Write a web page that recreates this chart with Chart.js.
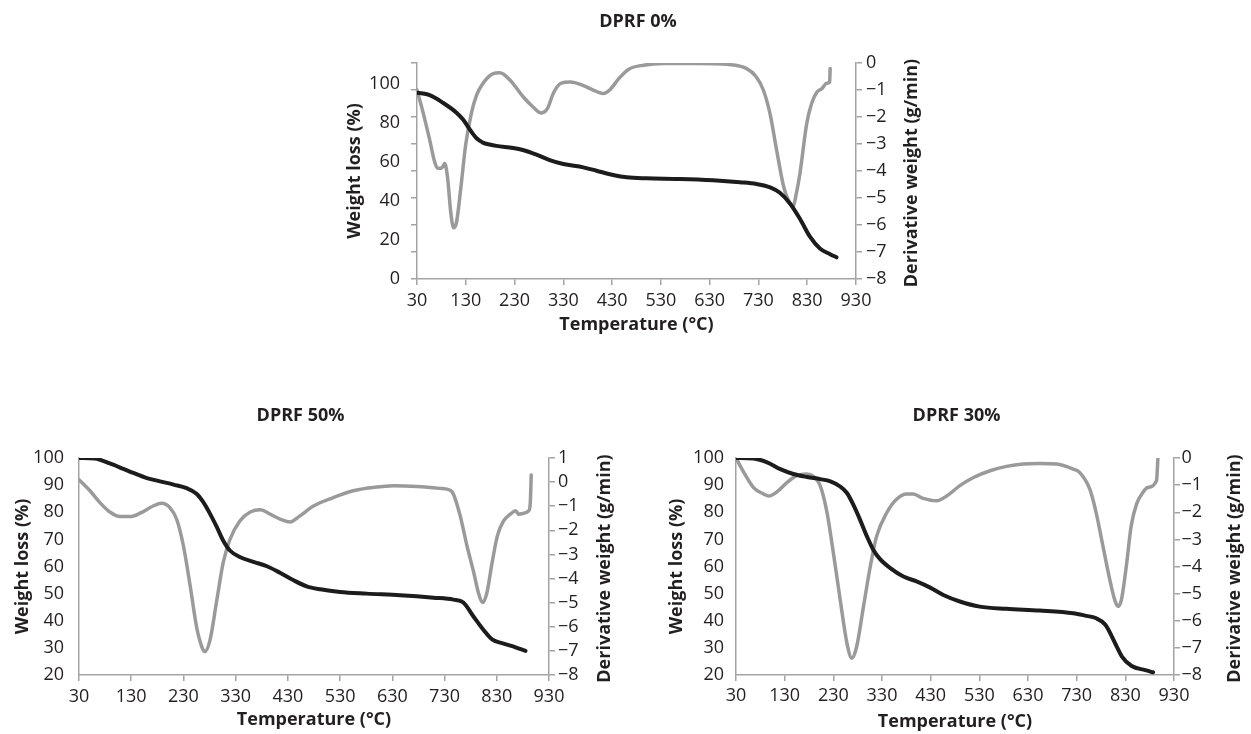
<!DOCTYPE html>
<html><head><meta charset="utf-8">
<script src="https://cdn.jsdelivr.net/npm/chart.js@4.4.0/dist/chart.umd.min.js"></script>
<style>
html,body{margin:0;padding:0;background:#fff;overflow:hidden;width:1251px;height:734px;}
canvas{position:absolute;}
</style></head><body>
<canvas id="c0" width="596" height="345" style="left:340px;top:0px"></canvas>
<canvas id="c50" width="620" height="334" style="left:0px;top:400px"></canvas>
<canvas id="c30" width="589" height="334" style="left:662px;top:400px"></canvas>
<script>
// ---- data ----
const TITLES = ['DPRF 0%', 'DPRF 50%', 'DPRF 30%'];
const X_TITLE = 'Temperature (°C)';
const Y_TITLE = 'Weight loss (%)';
const Y2_TITLE = 'Derivative weight (g/min)';
const TEMP_TICKS = [30, 130, 230, 330, 430, 530, 630, 730, 830, 930];

// DPRF 0%
const WEIGHT0_TICKS = [0, 20, 40, 60, 80, 100];
const DERIV0_TICKS = [0, -1, -2, -3, -4, -5, -6, -7, -8];
const T0_W = [30, 56, 83, 111, 124, 138, 145, 152, 159, 165, 179, 193, 227, 247, 275, 302, 330, 371, 398, 432, 460, 501, 569, 637, 692, 726, 754, 774, 795, 815, 836, 856, 877, 890];
const W0 = [95.3, 94.1, 90.2, 85.1, 81.7, 76.6, 74.1, 72.0, 70.7, 69.8, 68.8, 68.1, 67.0, 66.0, 63.6, 60.8, 58.8, 57.1, 55.4, 53.2, 52.0, 51.5, 51.2, 50.5, 49.5, 48.6, 46.9, 44.1, 38.5, 30.8, 21.5, 15.6, 12.7, 11.1];
const T0_D = [30, 42, 56, 66, 72, 80, 87, 93, 99, 105, 111, 120, 130, 141, 152, 165, 185, 200, 220, 248, 268, 285, 297, 310, 325, 345, 370, 400, 412, 425, 445, 465, 495, 535, 600, 670, 705, 725, 740, 754, 768, 782, 792, 801, 808, 815, 829, 839, 850, 860, 870, 876, 877];
const D0 = [-1.0, -1.8, -2.85, -3.65, -3.9, -3.9, -3.72, -4.3, -5.5, -6.1, -5.9, -4.6, -3.0, -1.9, -1.2, -0.76, -0.4, -0.36, -0.62, -1.26, -1.63, -1.85, -1.7, -1.1, -0.75, -0.7, -0.83, -1.07, -1.13, -1.0, -0.55, -0.22, -0.08, -0.02, -0.02, -0.06, -0.2, -0.5, -1.0, -1.9, -3.3, -4.6, -5.1, -5.3, -4.8, -4.1, -2.24, -1.5, -1.07, -0.95, -0.75, -0.7, -0.2];

// DPRF 50%
const WEIGHT50_TICKS = [20, 30, 40, 50, 60, 70, 80, 90, 100];
const DERIV50_TICKS = [1, 0, -1, -2, -3, -4, -5, -6, -7, -8];
const T50_W = [30, 60, 89, 115, 134, 160, 185, 211, 236, 255, 268, 281, 294, 306, 319, 338, 364, 390, 415, 441, 466, 492, 530, 581, 645, 709, 747, 766, 786, 805, 821, 843, 866, 885];
const W50 = [100, 99.8, 98, 96, 94.5, 92.6, 91.4, 90.2, 88.9, 86.8, 83.7, 79.4, 74.5, 69.6, 65.9, 63.5, 61.7, 60.1, 57.7, 54.9, 52.7, 51.6, 50.6, 50.0, 49.4, 48.5, 47.8, 46.7, 41.4, 36.5, 33.1, 31.6, 30.2, 28.9];
const T50_D = [30, 51, 70, 89, 109, 128, 147, 172, 188, 204, 217, 230, 243, 255, 265, 271, 281, 294, 306, 319, 338, 358, 377, 396, 415, 434, 453, 479, 517, 555, 594, 632, 677, 721, 741, 747, 760, 773, 786, 795, 803, 811, 821, 831, 843, 856, 866, 872, 882, 891, 894, 896];
const D50 = [0.1, -0.36, -0.85, -1.24, -1.43, -1.43, -1.29, -0.99, -0.88, -1.06, -1.54, -2.65, -4.32, -5.99, -6.82, -7.03, -6.54, -4.88, -3.35, -2.38, -1.61, -1.24, -1.15, -1.33, -1.54, -1.65, -1.40, -0.99, -0.64, -0.36, -0.22, -0.15, -0.18, -0.26, -0.34, -0.5, -1.40, -2.65, -3.76, -4.6, -4.99, -4.6, -3.35, -2.24, -1.61, -1.33, -1.19, -1.33, -1.29, -1.19, -0.92, 0.3];

// DPRF 30%
const WEIGHT30_TICKS = [20, 30, 40, 50, 60, 70, 80, 90, 100];
const DERIV30_TICKS = [0, -1, -2, -3, -4, -5, -6, -7, -8];
const T30_W = [30, 66, 94, 121, 148, 176, 203, 224, 244, 258, 271, 285, 299, 312, 326, 347, 374, 401, 429, 456, 490, 531, 586, 654, 723, 750, 769, 789, 809, 823, 843, 871, 887];
const W30 = [100, 99.8, 98.4, 95.9, 94.1, 93.0, 92.2, 91.4, 89.5, 87.1, 82.8, 77.2, 71.1, 66.2, 62.7, 59.4, 56.3, 54.5, 52.2, 49.5, 47.1, 45.2, 44.4, 43.8, 42.8, 41.8, 41.0, 38.5, 31.7, 26.8, 23.3, 21.8, 21.0];
const T30_D = [30, 46, 66, 87, 97, 114, 135, 155, 176, 189, 203, 217, 230, 244, 258, 268, 278, 292, 306, 319, 340, 360, 381, 394, 415, 442, 463, 490, 518, 552, 586, 620, 654, 689, 723, 736, 757, 770, 784, 798, 808, 815, 822, 832, 842, 853, 866, 876, 894, 897];
const D30 = [0, -0.53, -1.09, -1.33, -1.40, -1.25, -0.9, -0.65, -0.59, -0.68, -1.02, -2.01, -3.49, -5.22, -6.83, -7.38, -6.95, -5.47, -3.99, -2.88, -2.01, -1.52, -1.33, -1.33, -1.49, -1.58, -1.40, -1.02, -0.72, -0.47, -0.31, -0.22, -0.20, -0.22, -0.41, -0.53, -1.15, -2.01, -3.25, -4.48, -5.22, -5.47, -5.22, -3.99, -2.51, -1.70, -1.27, -1.09, -0.84, 0];

// ---- styling ----
const TEXT = '#231f20';
const AXIS = '#a3a3a3';
const BLACK = '#1c1c1c';
const GRAY = '#9a9a9a';
const FAMILY = '"Open Sans", "Noto Sans", sans-serif';

const pairs = (xs, ys) => xs.map((x, i) => ({x: x, y: ys[i]}));
const fixTicks = arr => scale => { scale.ticks = arr.map(v => ({value: v})); };
const minusFmt = v => (v < 0 ? '\u2212' + Math.abs(v) : String(v));

const rightTitlePlugin = {
  id: 'rightTitle',
  afterDraw(chart, args, opts) {
    const s = chart.scales.y1, ca = chart.chartArea, ctx = chart.ctx;
    ctx.save();
    ctx.translate(s.left + opts.offset, (ca.top + ca.bottom) / 2 + opts.dy);
    ctx.rotate(-Math.PI / 2);
    ctx.font = 'bold 18px ' + FAMILY;
    ctx.fillStyle = TEXT;
    ctx.textAlign = 'center';
    ctx.textBaseline = 'middle';
    ctx.fillText(opts.text, 0, 0);
    ctx.restore();
  }
};

function makeChart(id, g) {
  const scales = {
    x: {
      type: 'linear', min: 30, max: 930,
      afterBuildTicks: fixTicks(TEMP_TICKS),
      afterFit: s => { s.height = g.xH; },
      grid: {display: true, drawOnChartArea: false, drawTicks: true, tickLength: 6, color: AXIS, lineWidth: 1.5},
      border: {display: true, color: AXIS, width: 1.5},
      ticks: {color: TEXT, padding: g.xPad, maxRotation: 0, autoSkip: false, font: {family: FAMILY, size: 18, lineHeight: 1.2}},
      title: {display: true, text: X_TITLE, color: TEXT, padding: {top: 0, bottom: g.xTitlePad}, font: {family: FAMILY, size: 18, weight: 'bold', lineHeight: 1.2}}
    },
    y: {
      type: 'linear', position: 'left', weight: 1,
      min: g.yMin, max: g.yMax,
      afterBuildTicks: fixTicks(g.yTicks),
      afterFit: s => { s.width = g.yW; },
      grid: {display: g.yGrid, drawOnChartArea: false, drawTicks: true, tickLength: 6, color: AXIS, lineWidth: 1.5},
      border: {display: g.yBorder, color: AXIS, width: 1.5},
      ticks: {color: TEXT, padding: g.yPad, autoSkip: false, font: {family: FAMILY, size: 18, lineHeight: 1.2}},
      title: {display: true, text: Y_TITLE, color: TEXT, padding: {top: g.yTitlePad, bottom: 0}, font: {family: FAMILY, size: 18, weight: 'bold', lineHeight: 1.2}}
    },
    y1: {
      type: 'linear', position: 'right',
      min: g.y1Min, max: g.y1Max,
      afterBuildTicks: fixTicks(g.y1Ticks),
      afterFit: s => { s.width = g.y1W; },
      grid: {display: true, drawOnChartArea: false, drawTicks: true, tickLength: 6, color: AXIS, lineWidth: 1.5},
      border: {display: true, color: AXIS, width: 1.5},
      ticks: {color: TEXT, padding: g.y1Pad, autoSkip: false, callback: minusFmt, font: {family: FAMILY, size: 18, lineHeight: 1.2}},
      title: {display: false}
    }
  };
  if (g.tickAxis) {
    scales.yt = {
      type: 'linear', position: 'left', weight: 0,
      min: g.tickAxis[0], max: g.tickAxis[1],
      afterBuildTicks: fixTicks(g.tickAxisTicks),
      afterFit: s => { s.width = 6; },
      grid: {display: true, drawOnChartArea: false, drawTicks: true, tickLength: 6, color: AXIS, lineWidth: 1.5},
      border: {display: true, color: AXIS, width: 1.5},
      ticks: {display: false},
      title: {display: false}
    };
  }
  new Chart(document.getElementById(id), {
    type: 'line',
    data: {
      datasets: [
        {label: 'Weight loss', data: pairs(g.tw, g.w), yAxisID: 'y', borderColor: BLACK, borderWidth: 4,
         pointRadius: 0, fill: false, cubicInterpolationMode: 'monotone', borderCapStyle: 'round', borderJoinStyle: 'round'},
        {label: 'Derivative weight', data: pairs(g.td, g.d), yAxisID: 'y1', borderColor: GRAY, borderWidth: 3.5,
         pointRadius: 0, fill: false, cubicInterpolationMode: 'monotone', borderCapStyle: 'round', borderJoinStyle: 'round'}
      ]
    },
    options: {
      responsive: false, animation: false, devicePixelRatio: 1,
      layout: {padding: {left: 0, right: g.padR, top: 0, bottom: 0}},
      plugins: {
        legend: {display: false},
        tooltip: {enabled: false},
        title: {display: true, text: g.title, color: TEXT, padding: {top: g.tPadTop, bottom: g.tPadBot},
                font: {family: FAMILY, size: 18, weight: 'bold', lineHeight: 1.2}},
        rightTitle: {text: Y2_TITLE, offset: g.rtOffset, dy: 2}
      },
      scales: scales
    },
    plugins: [rightTitlePlugin]
  });
}

makeChart('c0', {
  title: TITLES[0], tw: T0_W, w: W0, td: T0_D, d: D0,
  yMin: 0, yMax: 110.5, yTicks: WEIGHT0_TICKS, yW: 71, yPad: 5, yGrid: false, yBorder: false, yTitlePad: 3.7,
  tickAxis: [0, 8], tickAxisTicks: [0, 1, 2, 3, 4, 5, 6, 7, 8],
  y1Min: -8, y1Max: 0, y1Ticks: DERIV0_TICKS, y1W: 80, y1Pad: 4,
  xH: 66, xPad: 5, xTitlePad: 9.2, padR: 0,
  tPadTop: 11.2, tPadBot: 30.2, rtOffset: 55.5
});
makeChart('c50', {
  title: TITLES[1], tw: T50_W, w: W50, td: T50_D, d: D50,
  yMin: 20, yMax: 100, yTicks: WEIGHT50_TICKS, yW: 79, yPad: 9, yGrid: false, yBorder: true, yTitlePad: 11.7,
  y1Min: -8, y1Max: 1, y1Ticks: DERIV50_TICKS, y1W: 52, y1Pad: 3,
  xH: 59, xPad: 4.7, xTitlePad: 3.2, padR: 19,
  tPadTop: 5.2, tPadBot: 31.2, rtOffset: 56
});
makeChart('c30', {
  title: TITLES[2], tw: T30_W, w: W30, td: T30_D, d: D30,
  yMin: 20, yMax: 100, yTicks: WEIGHT30_TICKS, yW: 74, yPad: 6, yGrid: false, yBorder: true, yTitlePad: 3.9,
  y1Min: -8, y1Max: 0, y1Ticks: DERIV30_TICKS, y1W: 77, y1Pad: 1.5,
  xH: 59, xPad: 4, xTitlePad: 1.5, padR: 0,
  tPadTop: 5.2, tPadBot: 31.2, rtOffset: 61
});
</script>
</body></html>
